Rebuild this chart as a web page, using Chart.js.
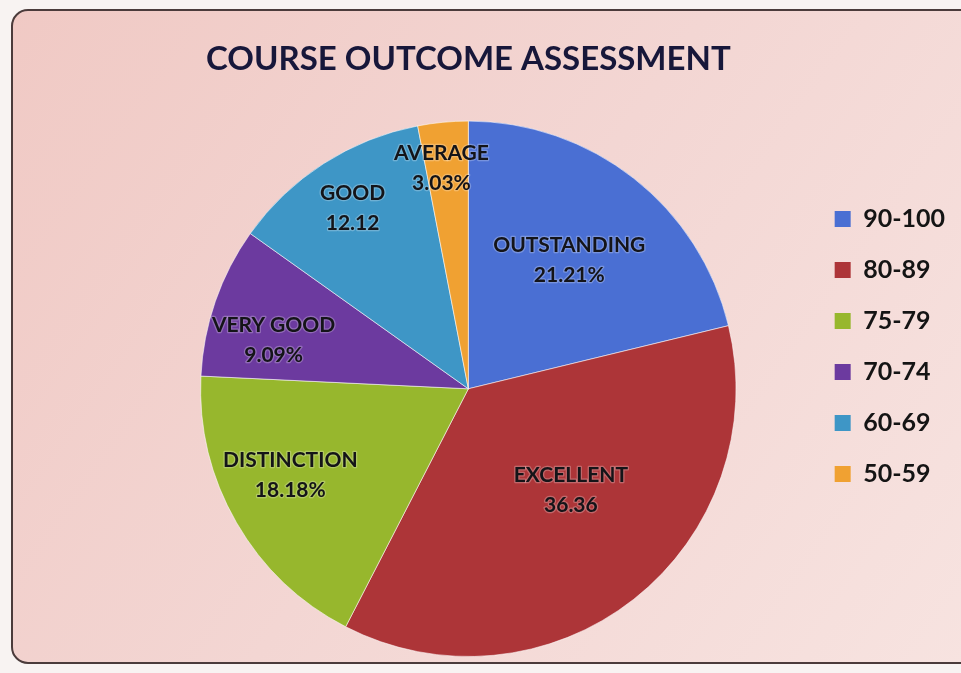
<!DOCTYPE html>
<html>
<head>
<meta charset="utf-8">
<title>Course Outcome Assessment</title>
<script src="https://cdn.jsdelivr.net/npm/chart.js@4.4.1/dist/chart.umd.min.js"></script>
<style>
    html, body { margin: 0; padding: 0; background: #f8f3f2; }
    #wrap { width: 961px; height: 673px; }
</style>
</head>
<body>
<div id="wrap"><canvas id="outcomeChart" width="961" height="673"></canvas></div>
<script>
// score bands shown in the legend
const ranges = ["90-100", "80-89", "75-79", "70-74", "60-69", "50-59"];
// grade names written inside the slices
const grades = ["OUTSTANDING", "EXCELLENT", "DISTINCTION", "VERY GOOD", "GOOD", "AVERAGE"];
// share of students per band (%)
const shares = [21.21, 36.36, 18.18, 9.09, 12.12, 3.03];
// the original only prints the % sign on some slices
const withPercent = [true, false, true, true, false, true];

const sliceColors = ["#4a6fd3", "#ad3538", "#97b72d", "#6c3a9f", "#3e96c6", "#f0a132"];

// draws the pink card with its rounded outline behind everything
const cardBackground = {
    id: "cardBackground",
    beforeDraw(chart) {
        const ctx = chart.ctx;
        const w = chart.width, h = chart.height;
        ctx.save();
        ctx.fillStyle = "#f8f3f2";
        ctx.fillRect(0, 0, w, h);

        const grad = ctx.createLinearGradient(0, 0, w, h);
        grad.addColorStop(0, "#f0c9c4");
        grad.addColorStop(0.5, "#f3d6d3");
        grad.addColorStop(1, "#f7e3e0");
        ctx.beginPath();
        ctx.roundRect(12, 10, w + 10, h - 20, 16);
        ctx.fillStyle = grad;
        ctx.fill();
        ctx.lineWidth = 2;
        ctx.strokeStyle = "#4b3b3b";
        ctx.stroke();
        ctx.restore();
    }
};

// two-line labels (grade + value) placed inside each slice
const sliceLabels = {
    id: "sliceLabels",
    afterDatasetsDraw(chart, args, opts) {
        const ctx = chart.ctx;
        const meta = chart.getDatasetMeta(0);
        ctx.save();
        ctx.font = opts.font;
        ctx.textAlign = "center";
        ctx.textBaseline = "middle";
        ctx.lineJoin = "round";
        meta.data.forEach((arc, i) => {
            const p = arc.getProps(["x", "y", "startAngle", "endAngle", "outerRadius"], true);
            const mid = (p.startAngle + p.endAngle) / 2 + opts.shift[i] * Math.PI / 180;
            const r = p.outerRadius * opts.reach[i];
            const cx = p.x + Math.cos(mid) * r;
            const cy = p.y + Math.sin(mid) * r;
            const lines = [grades[i], shares[i].toFixed(2) + (withPercent[i] ? "%" : "")];
            lines.forEach((txt, k) => {
                const y = cy + (k - 0.5) * opts.lineGap;
                ctx.lineWidth = 2.5;
                ctx.strokeStyle = "rgba(255,255,255,0.25)";
                ctx.strokeText(txt, cx, y);
                ctx.fillStyle = "#141418";
                ctx.fillText(txt, cx, y);
            });
        });
        ctx.restore();
    }
};

const ctx = document.getElementById("outcomeChart").getContext("2d");
new Chart(ctx, {
    type: "pie",
    data: {
        labels: ranges,
        datasets: [{
            label: "Course Outcome",
            data: shares,
            backgroundColor: sliceColors,
            borderColor: "rgba(255,255,255,0.55)",
            borderWidth: 1
        }]
    },
    options: {
        responsive: false,
        animation: false,
        layout: {
            padding: { top: 36, left: 128, right: 6, bottom: 16 }
        },
        plugins: {
            title: {
                display: true,
                fullSize: false,
                text: "COURSE OUTCOME ASSESSMENT",
                color: "#17173a",
                font: { family: "Lato", size: 33, weight: "bold", lineHeight: 1.2 },
                padding: { top: 4, bottom: 41 }
            },
            legend: {
                position: "right",
                labels: {
                    color: "#141414",
                    font: { family: "Lato", size: 25, weight: "bold" },
                    boxWidth: 16,
                    boxHeight: 16,
                    padding: 26,
                    generateLabels(chart) {
                        return Chart.overrides.doughnut.plugins.legend.labels.generateLabels(chart)
                            .map(item => Object.assign(item, { lineWidth: 0 }));
                    }
                }
            },
            tooltip: { enabled: false },
            sliceLabels: {
                font: "bold 21px Lato",
                lineGap: 30,
                reach: [0.61, 0.54, 0.74, 0.75, 0.80, 0.83],
                shift: [0, -7, 4, -5, 0, -1.5]
            }
        }
    },
    plugins: [cardBackground, sliceLabels]
});
</script>
</body>
</html>
